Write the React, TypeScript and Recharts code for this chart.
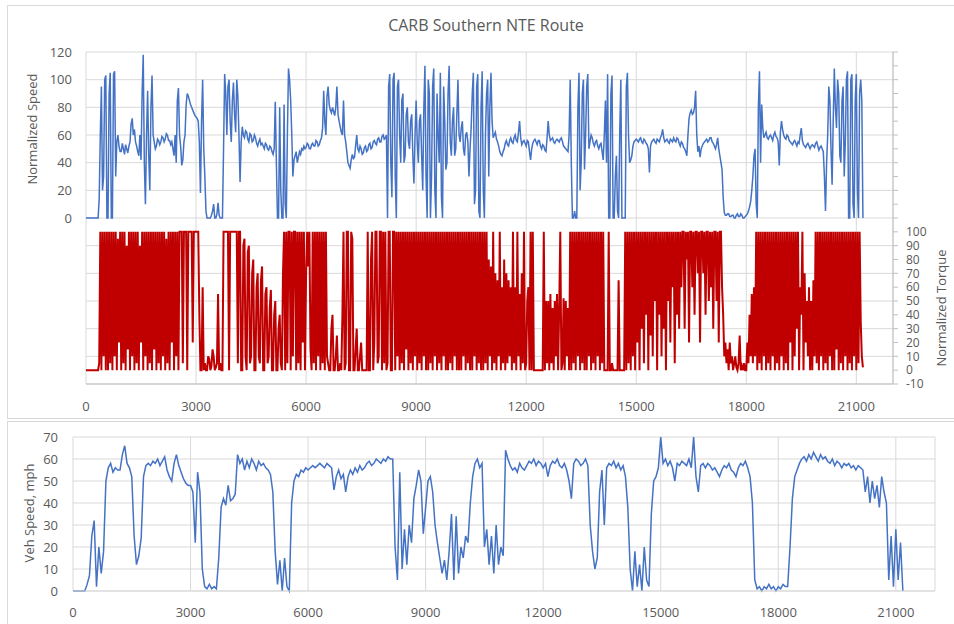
import React from 'react';
import { LineChart, Line, XAxis, YAxis, CartesianGrid } from 'recharts';

const FONT = '"Open Sans", "Liberation Sans", sans-serif';
const TEXT_COLOR = '#595959';
const GRID = '#d9d9d9';
const AXIS = '#bfbfbf';
const BLUE = '#4472C4';
const RED = '#C00000';

const TITLE = 'CARB Southern NTE Route';
const SPEED_LABEL = 'Normalized Speed';
const TORQUE_LABEL = 'Normalized Torque';
const VEH_LABEL = 'Veh Speed, mph';

// seconds between samples (engine panel / vehicle panel)
const ENGINE_STEP_S = 30;
const VEH_STEP_S = 60;

const X_TICKS = [0, 3000, 6000, 9000, 12000, 15000, 18000, 21000];
const SPEED_TICKS = [-120, -100, -80, -60, -40, -20, 0, 20, 40, 60, 80, 100, 120];
const TORQUE_TICKS = [-10, 0, 10, 20, 30, 40, 50, 60, 70, 80, 90, 100, 110, 120, 130, 140, 150, 160, 170, 180, 190, 200, 210, 220, 230];
const VEH_TICKS = [0, 10, 20, 30, 40, 50, 60, 70];

// one line = 600 s (20 samples of 30 s)
const NORM_SPEED = [
  0, 0, 0, 0, 0, 0, 0, 0, 0, 0, 0, 0, 14, 60, 95, 20, 30, 100, 103, 0,
  0, 90, 105, 0, 0, 104, 106, 30, 55, 60, 52, 48, 48, 54, 50, 46, 53, 50, 47, 52,
  55, 68, 72, 60, 64, 55, 52, 48, 45, 60, 42, 90, 118, 40, 10, 60, 92, 45, 20, 80,
  103, 60, 55, 50, 52, 57, 56, 53, 55, 59, 58, 55, 57, 61, 60, 56, 56, 53, 55, 50,
  45, 60, 40, 85, 94, 60, 52, 38, 42, 55, 60, 82, 90, 88, 85, 82, 80, 78, 76, 74,
  73, 72, 70, 55, 18, 70, 100, 50, 30, 5, 0, 0, 0, 0, 2, 5, 10, 0, 0, 3,
  11, 2, 0, 0, 0, 50, 104, 90, 60, 95, 100, 70, 55, 85, 98, 75, 62, 100, 88, 60,
  26, 55, 66, 60, 58, 63, 62, 57, 55, 61, 60, 55, 56, 60, 58, 54, 52, 55, 57, 53,
  54, 52, 50, 54, 53, 50, 49, 52, 51, 48, 46, 50, 84, 40, 0, 0, 80, 20, 0, 0,
  82, 10, 0, 60, 108, 100, 85, 60, 30, 42, 45, 48, 40, 44, 48, 46, 50, 49, 52, 50,
  51, 54, 53, 50, 50, 53, 54, 52, 52, 56, 55, 52, 53, 56, 58, 65, 92, 70, 60, 88,
  95, 82, 78, 76, 80, 77, 74, 80, 95, 75, 70, 66, 62, 60, 85, 60, 55, 48, 40, 38,
  36, 42, 46, 43, 44, 52, 60, 50, 48, 52, 50, 46, 47, 51, 52, 48, 49, 53, 54, 50,
  51, 55, 56, 54, 53, 57, 58, 55, 55, 59, 60, 57, 58, 60, 0, 95, 104, 40, 15, 100,
  105, 30, 0, 95, 100, 60, 40, 85, 90, 40, 45, 75, 80, 55, 50, 70, 75, 45, 25, 60,
  85, 55, 40, 70, 75, 45, 20, 80, 110, 30, 0, 100, 90, 0, 30, 95, 108, 20, 0, 90,
  60, 40, 105, 15, 0, 95, 70, 35, 40, 90, 110, 55, 45, 70, 80, 45, 50, 75, 100, 60,
  55, 65, 70, 50, 45, 60, 62, 55, 30, 50, 65, 90, 105, 10, 20, 95, 104, 5, 0, 80,
  106, 20, 0, 60, 90, 100, 30, 80, 105, 70, 58, 60, 62, 57, 55, 52, 48, 46, 45, 48,
  50, 54, 56, 53, 52, 56, 58, 55, 54, 58, 60, 56, 55, 62, 70, 58, 53, 55, 56, 54,
  52, 56, 55, 48, 42, 50, 54, 56, 57, 55, 53, 56, 56, 52, 50, 53, 52, 49, 48, 58,
  70, 60, 56, 57, 58, 55, 54, 56, 57, 56, 55, 57, 58, 55, 52, 51, 50, 49, 48, 60,
  100, 40, 0, 0, 5, 0, 0, 80, 105, 20, 40, 90, 100, 35, 60, 95, 104, 50, 55, 60,
  58, 54, 52, 55, 56, 52, 50, 53, 54, 48, 42, 60, 85, 40, 104, 0, 0, 90, 103, 0,
  0, 30, 45, 5, 0, 60, 100, 0, 0, 0, 0, 95, 105, 60, 40, 42, 45, 52, 55, 56,
  57, 56, 55, 57, 58, 55, 54, 57, 56, 54, 53, 50, 33, 52, 55, 56, 57, 55, 54, 57,
  56, 55, 58, 60, 64, 58, 55, 56, 57, 55, 54, 57, 56, 55, 58, 56, 55, 58, 57, 54,
  52, 55, 54, 51, 50, 48, 45, 60, 72, 76, 78, 75, 76, 80, 92, 60, 48, 52, 44, 50,
  52, 54, 55, 56, 57, 55, 56, 58, 58, 55, 54, 52, 50, 53, 58, 50, 45, 40, 35, 15,
  4, 2, 2, 3, 3, 1, 1, 2, 2, 0, 0, 2, 3, 1, 1, 3, 2, 0, 0, 1,
  2, 3, 5, 8, 12, 20, 30, 45, 50, 10, 0, 80, 106, 40, 82, 65, 58, 60, 62, 58,
  57, 59, 60, 58, 56, 60, 62, 59, 58, 55, 38, 62, 70, 64, 60, 58, 57, 60, 59, 56,
  55, 54, 53, 55, 56, 54, 52, 55, 54, 60, 65, 56, 53, 52, 51, 53, 54, 52, 50, 52,
  53, 52, 51, 54, 55, 52, 49, 51, 52, 50, 48, 30, 5, 40, 60, 95, 85, 50, 24, 70,
  108, 80, 65, 100, 90, 45, 40, 85, 95, 30, 55, 100, 106, 0, 0, 100, 104, 10, 0, 85,
  104, 20, 0, 90, 100, 85, 0,
];

const NORM_TORQUE = [
  0, 0, 0, 0, 0, 0, 0, 0, 0, 0, 0, 0, 5, 100, 0, 100, 10, 100, 0, 100,
  0, 100, 5, 100, 0, 100, 10, 100, 0, 95, 20, 100, 0, 100, 5, 100, 0, 90, 15, 100,
  0, 100, 10, 100, 0, 100, 5, 100, 0, 90, 20, 100, 0, 100, 10, 100, 0, 100, 5, 100,
  0, 100, 15, 100, 0, 100, 5, 100, 0, 100, 10, 100, 0, 95, 5, 100, 0, 100, 20, 100,
  0, 100, 10, 100, 0, 100, 100, 100, 5, 100, 100, 100, 0, 100, 100, 100, 100, 20, 100, 100,
  100, 100, 100, 40, 0, 0, 60, 0, 5, 0, 0, 10, 8, 0, 3, 15, 10, 0, 2, 5,
  55, 0, 5, 0, 0, 100, 100, 100, 100, 100, 0, 100, 100, 100, 100, 100, 100, 100, 5, 100,
  100, 0, 0, 90, 95, 10, 0, 85, 90, 5, 10, 70, 80, 0, 0, 60, 70, 10, 5, 65,
  75, 0, 0, 55, 60, 5, 10, 45, 58, 0, 0, 40, 50, 0, 0, 30, 40, 5, 0, 70,
  100, 0, 100, 5, 100, 100, 0, 100, 10, 100, 100, 0, 100, 5, 100, 0, 100, 20, 100, 0,
  70, 100, 75, 100, 15, 0, 100, 5, 100, 0, 100, 10, 100, 0, 100, 5, 100, 0, 100, 10,
  5, 0, 0, 30, 40, 0, 0, 10, 25, 0, 0, 5, 0, 40, 100, 0, 5, 100, 100, 0,
  0, 100, 95, 0, 0, 15, 30, 0, 0, 10, 20, 0, 0, 0, 0, 0, 100, 0, 0, 80,
  100, 0, 20, 100, 100, 5, 10, 100, 100, 0, 100, 5, 100, 0, 5, 100, 100, 0, 0, 100,
  100, 0, 100, 10, 100, 0, 100, 5, 100, 0, 100, 15, 100, 0, 100, 5, 100, 0, 100, 10,
  100, 0, 100, 5, 100, 0, 100, 10, 100, 0, 100, 0, 100, 5, 100, 0, 100, 10, 100, 0,
  100, 5, 100, 0, 100, 10, 100, 0, 100, 0, 100, 5, 100, 0, 100, 10, 100, 0, 100, 0,
  100, 0, 100, 10, 100, 0, 100, 5, 100, 0, 100, 0, 100, 10, 100, 0, 100, 5, 100, 0,
  100, 0, 100, 5, 100, 0, 80, 10, 75, 0, 100, 5, 70, 0, 65, 10, 100, 0, 60, 5,
  80, 0, 70, 5, 65, 10, 60, 0, 100, 5, 60, 0, 100, 10, 55, 0, 70, 5, 100, 0,
  5, 50, 60, 0, 100, 0, 100, 0, 0, 0, 0, 0, 0, 0, 0, 0, 100, 0, 50, 5,
  50, 0, 55, 5, 45, 0, 50, 10, 55, 0, 45, 100, 0, 5, 52, 0, 50, 10, 45, 0,
  100, 0, 100, 5, 100, 0, 100, 10, 100, 0, 100, 5, 100, 0, 100, 0, 100, 10, 100, 0,
  100, 5, 100, 0, 100, 10, 100, 0, 100, 5, 100, 0, 0, 0, 0, 100, 0, 0, 5, 0,
  0, 0, 0, 0, 65, 0, 0, 0, 0, 0, 100, 0, 100, 5, 100, 0, 100, 10, 100, 0,
  100, 20, 100, 0, 100, 30, 100, 5, 100, 40, 100, 0, 100, 25, 100, 10, 100, 50, 100, 0,
  100, 40, 100, 10, 100, 30, 100, 0, 100, 50, 100, 20, 100, 60, 100, 5, 100, 40, 100, 30,
  100, 60, 100, 100, 30, 100, 80, 100, 20, 100, 100, 60, 100, 40, 100, 100, 70, 100, 20, 100,
  100, 70, 100, 40, 100, 100, 50, 100, 60, 100, 30, 100, 100, 50, 100, 20, 100, 100, 60, 40,
  10, 20, 5, 15, 0, 20, 5, 10, 0, 5, 10, 2, 0, 5, 25, 0, 3, 0, 5, 0,
  0, 20, 5, 40, 10, 55, 5, 60, 10, 100, 0, 100, 5, 100, 0, 100, 10, 100, 0, 100,
  5, 100, 0, 100, 10, 100, 0, 100, 5, 100, 0, 100, 10, 100, 0, 100, 5, 100, 0, 100,
  20, 100, 0, 100, 10, 100, 30, 100, 0, 60, 40, 100, 0, 70, 20, 50, 10, 60, 0, 50,
  0, 65, 10, 100, 5, 100, 0, 100, 10, 100, 0, 100, 5, 100, 0, 100, 10, 100, 0, 100,
  0, 100, 15, 100, 0, 100, 5, 100, 0, 100, 10, 100, 0, 100, 5, 100, 0, 100, 10, 100,
  0, 100, 5, 100, 35, 10, 2,
];

// one line = 600 s (10 samples of 60 s)
const VEH_SPEED = [
  0, 0, 0, 0, 0, 0, 3, 7, 25, 32,
  2, 20, 8, 18, 50, 56, 58, 54, 56, 55,
  55, 62, 66, 58, 56, 52, 25, 12, 16, 24,
  52, 57, 58, 57, 59, 58, 60, 57, 59, 61,
  55, 52, 50, 58, 62, 57, 54, 51, 49, 48,
  48, 45, 22, 54, 45, 10, 2, 1, 3, 1,
  2, 1, 15, 38, 42, 39, 48, 41, 42, 44,
  62, 58, 60, 55, 59, 56, 60, 58, 55, 59,
  57, 58, 56, 55, 53, 45, 18, 3, 14, 0,
  15, 2, 0, 40, 50, 53, 52, 55, 54, 56,
  55, 56, 57, 56, 57, 58, 57, 56, 58, 57,
  56, 46, 52, 55, 51, 53, 45, 52, 55, 53,
  56, 54, 57, 55, 56, 58, 59, 57, 58, 60,
  59, 58, 60, 59, 61, 60, 60, 20, 5, 54,
  10, 28, 12, 30, 22, 42, 48, 55, 50, 26,
  38, 50, 52, 45, 30, 22, 15, 8, 14, 5,
  18, 35, 5, 34, 8, 20, 15, 25, 22, 40,
  52, 58, 60, 56, 58, 20, 28, 12, 25, 8,
  30, 12, 20, 16, 64, 60, 57, 55, 56, 54,
  58, 56, 55, 57, 59, 58, 60, 57, 59, 58,
  56, 58, 52, 57, 59, 58, 60, 57, 56, 58,
  55, 50, 42, 58, 60, 59, 57, 58, 60, 57,
  30, 18, 10, 15, 45, 55, 30, 56, 58, 57,
  59, 56, 58, 55, 57, 52, 38, 10, 0, 18,
  2, 12, 0, 20, 5, 2, 35, 50, 52, 56,
  70, 58, 60, 57, 59, 56, 50, 58, 57, 59,
  58, 57, 60, 56, 70, 52, 45, 57, 58, 56,
  58, 57, 55, 56, 54, 52, 55, 57, 56, 58,
  55, 54, 52, 56, 58, 57, 59, 56, 52, 40,
  5, 1, 2, 0, 2, 1, 3, 1, 2, 0,
  2, 1, 3, 2, 2, 20, 42, 52, 55, 58,
  60, 61, 59, 62, 60, 63, 61, 59, 62, 60,
  61, 59, 58, 60, 57, 59, 58, 56, 58, 57,
  58, 56, 57, 55, 57, 56, 55, 45, 52, 40,
  50, 42, 48, 38, 52, 45, 40, 5, 25, 2,
  28, 5, 22, 0,
];

const engineData = NORM_SPEED.map((v, i) => ({
  t: i * ENGINE_STEP_S,
  speed: v,
  torque: NORM_TORQUE[i],
}));

const vehData = VEH_SPEED.map((v, i) => ({
  t: i * VEH_STEP_S,
  veh: v,
}));

function makeTick(anchor: 'start' | 'middle' | 'end', dy: number, size: number, show: (v: number) => boolean) {
  return (props: any) => {
    const { x, y, payload } = props;
    if (!show(payload.value)) return <g />;
    return (
      <text x={x} y={y} dy={dy} textAnchor={anchor} fill={TEXT_COLOR} fontSize={size} fontFamily={FONT}>
        {payload.value}
      </text>
    );
  };
}

const leftSpeedTick = makeTick('end', 4.5, 13, (v) => v >= 0);
const rightTorqueTick = makeTick('start', 4.2, 12, (v) => v <= 100);
const bottomTick = makeTick('middle', 10, 13, () => true);
const vehTick = makeTick('end', 4.5, 13, () => true);

export default function App() {
  return (
    <div style={{ position: 'absolute', left: 0, top: 0, width: 954, height: 624, background: '#fff', overflow: 'hidden' }}>
      <div style={{ position: 'absolute', left: 7, top: 5, width: 947, height: 414, boxSizing: 'border-box', borderTop: '1px solid #d9d9d9', borderLeft: '1px solid #d9d9d9', borderBottom: '1px solid #d9d9d9' }} />
      <div style={{ position: 'absolute', left: 7, top: 421, width: 947, height: 203, boxSizing: 'border-box', borderTop: '1px solid #d9d9d9', borderLeft: '1px solid #d9d9d9' }} />

      <div style={{ position: 'absolute', left: 0, top: 0 }}>
        <LineChart width={954} height={420} data={engineData} margin={{ top: 52, right: 8, left: 7, bottom: 0 }}>
          <CartesianGrid yAxisId="speed" stroke={GRID} strokeWidth={1} />
          <XAxis
            dataKey="t"
            type="number"
            domain={[0, 22000]}
            ticks={X_TICKS}
            interval={0}
            height={36}
            tickSize={0}
            tickMargin={17}
            tickLine={false}
            axisLine={{ stroke: AXIS }}
            tick={bottomTick}
          />
          <YAxis
            yAxisId="speed"
            type="number"
            domain={[-120, 120]}
            ticks={SPEED_TICKS}
            interval={0}
            width={79}
            tickSize={0}
            tickMargin={14}
            tickLine={false}
            axisLine={false}
            tick={leftSpeedTick}
          />
          <YAxis
            yAxisId="torque"
            orientation="right"
            type="number"
            domain={[-10, 230]}
            ticks={TORQUE_TICKS}
            interval={0}
            width={53}
            tickSize={5}
            tickMargin={8}
            tickLine={{ stroke: AXIS }}
            axisLine={{ stroke: AXIS }}
            tick={rightTorqueTick}
          />
          <Line yAxisId="torque" dataKey="torque" type="linear" stroke={RED} strokeWidth={2} dot={false} isAnimationActive={false} />
          <Line yAxisId="speed" dataKey="speed" type="linear" stroke={BLUE} strokeWidth={1.5} dot={false} isAnimationActive={false} />
        </LineChart>
      </div>

      <div style={{ position: 'absolute', left: 0, top: 422 }}>
        <LineChart width={954} height={202} data={vehData} margin={{ top: 15, right: 19, left: 7, bottom: 0 }}>
          <CartesianGrid stroke={GRID} strokeWidth={1} />
          <XAxis
            dataKey="t"
            type="number"
            domain={[0, 22000]}
            ticks={X_TICKS}
            interval={0}
            height={33}
            tickSize={0}
            tickMargin={16}
            tickLine={false}
            axisLine={{ stroke: GRID }}
            tick={bottomTick}
          />
          <YAxis
            type="number"
            domain={[0, 70]}
            ticks={VEH_TICKS}
            interval={0}
            width={66}
            tickSize={0}
            tickMargin={15}
            tickLine={false}
            axisLine={false}
            tick={vehTick}
          />
          <Line dataKey="veh" type="linear" stroke={BLUE} strokeWidth={1.5} dot={false} isAnimationActive={false} />
        </LineChart>
      </div>

      <svg width={954} height={624} style={{ position: 'absolute', left: 0, top: 0, pointerEvents: 'none' }}>
        <text x={486} y={31} textAnchor="middle" fill={TEXT_COLOR} fontSize={16} fontFamily={FONT}>{TITLE}</text>
        <text x={32} y={129} dy={4.5} textAnchor="middle" fill={TEXT_COLOR} fontSize={13} fontFamily={FONT} transform="rotate(-90, 32, 129)">{SPEED_LABEL}</text>
        <text x={941} y={308} dy={4.5} textAnchor="middle" fill={TEXT_COLOR} fontSize={13} fontFamily={FONT} transform="rotate(-90, 941, 308)">{TORQUE_LABEL}</text>
        <text x={29} y={513} dy={4.5} textAnchor="middle" fill={TEXT_COLOR} fontSize={13} fontFamily={FONT} transform="rotate(-90, 29, 513)">{VEH_LABEL}</text>
      </svg>
    </div>
  );
}
